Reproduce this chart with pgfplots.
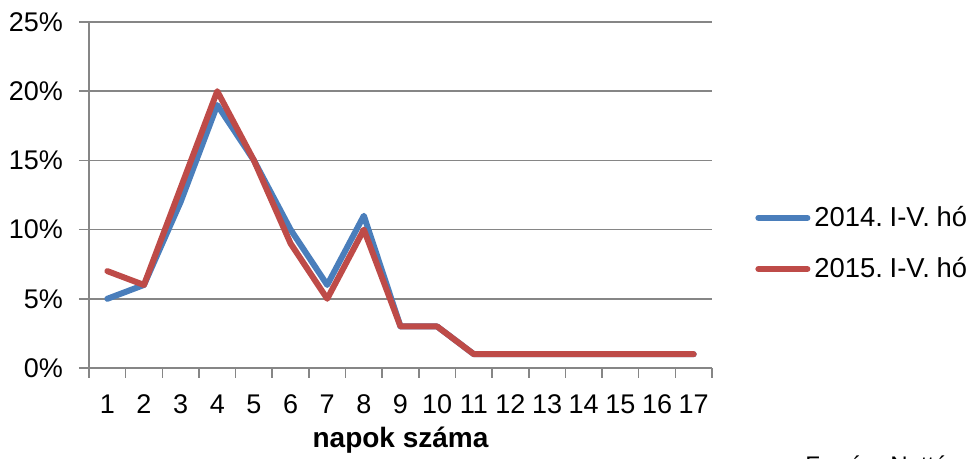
\documentclass[border=0pt]{standalone}
\usepackage{pgfplots}
\pgfplotsset{compat=1.18}
\usepackage{fontspec}
\setmainfont{Liberation Sans}
\definecolor{gridgray}{RGB}{134,134,134}
\definecolor{serA}{RGB}{74,126,187}
\definecolor{serB}{RGB}{190,75,72}
\begin{document}
\begin{tikzpicture}[x=0.5pt,y=0.5pt]
\useasboundingbox (0,0) rectangle (975,459);
\begin{axis}[
  at={(44.5pt,45.5pt)}, anchor=south west,
  scale only axis, width=311.5pt, height=173pt,
  xmin=0.5, xmax=17.5, ymin=0, ymax=25,
  axis x line*=bottom, axis y line*=left,
  axis line style={draw=gridgray, line width=0.75pt},
  tick align=outside,
  xtick={1,...,17},
  xticklabels={1,2,3,4,5,6,7,8,9,10,11,12,13,14,15,16,17},
  major x tick style={draw=none},
  minor xtick={0.5,1.5,...,17.5},
  minor tick length=5pt,
  minor x tick style={draw=gridgray, line width=0.75pt},
  ytick={0,5,...,25},
  yticklabels={0\%,5\%,10\%,15\%,20\%,25\%},
  major tick length=5pt,
  major y tick style={draw=gridgray, line width=0.75pt},
  ymajorgrids,
  grid style={draw=gridgray, line width=0.75pt},
  tick label style={font=\fontsize{13.5}{15}\selectfont},
  yticklabel style={xshift=-4.5pt},
  xticklabel style={yshift=-5pt},
  xlabel={napok száma},
  xlabel style={font=\fontsize{14}{16}\selectfont\bfseries, anchor=center, at={(axis description cs:0.5,-0.208)}},
  legend style={at={(axis description cs:1.069,0.36)}, anchor=west, draw=none, fill=none,
    font=\fontsize{13.7}{15.5}\selectfont, row sep=10pt, inner sep=0pt},
  legend cell align=left,
  legend image code/.code={\draw[#1, line width=3pt, line cap=round] (1.5pt,0pt) -- (26pt,0pt);},
  clip=false,
]
\addplot[serA, line width=3pt, line cap=round, line join=round] coordinates {
 (1,5) (2,6) (3,12) (4,19) (5,15) (6,10) (7,6) (8,11) (9,3) (10,3)
 (11,1) (12,1) (13,1) (14,1) (15,1) (16,1) (17,1)};
\addlegendentry{2014.\hspace{3.4pt}I-V.\hspace{3.4pt}hó}
\addplot[serB, line width=3pt, line cap=round, line join=round] coordinates {
 (1,7) (2,6) (3,13) (4,20) (5,15) (6,9) (7,5) (8,10) (9,3) (10,3)
 (11,1) (12,1) (13,1) (14,1) (15,1) (16,1) (17,1)};
\addlegendentry{2015.\hspace{3.4pt}I-V.\hspace{3.4pt}hó}
\end{axis}
\node[anchor=north west, inner sep=0pt, font=\fontsize{12}{14}\selectfont] at (805,4) {Forrás: Nettó};
\end{tikzpicture}
\end{document}
